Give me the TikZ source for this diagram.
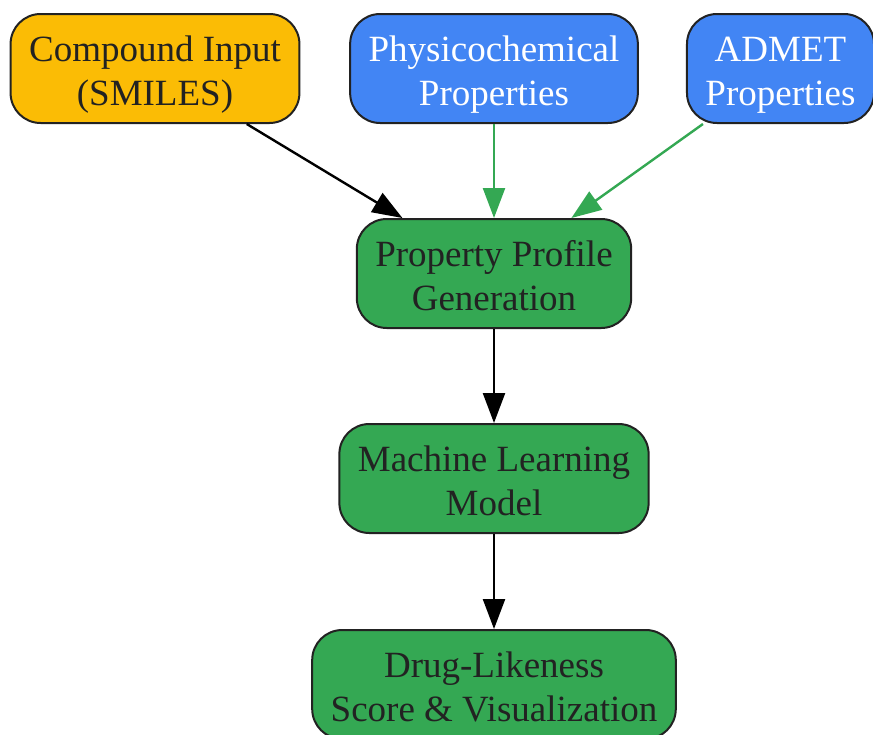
\documentclass[tikz,border=0pt]{standalone}
\usepackage{fontspec}
\setmainfont{Liberation Serif}
\usetikzlibrary{arrows.meta}

\definecolor{gyellow}{HTML}{FBBC05}
\definecolor{gblue}{HTML}{4285F4}
\definecolor{ggreen}{HTML}{34A853}
\definecolor{darktext}{HTML}{222222}

% two centred lines, set a little lower inside the box
\newcommand{\boxtext}[2]{\raisebox{-6pt}[\height][\depth]{\begin{tabular}{@{}c@{}}#1\\#2\end{tabular}}}

\tikzset{
    box/.style={draw=darktext, line width=2pt, rounded corners=30pt,
        minimum height=109pt, inner xsep=18.5pt, text=darktext,
        font=\fontsize{37}{44}\selectfont},
    flow/.style={line width=2.4pt, -{Triangle[length=30pt,width=22pt]}}
}

\begin{document}
\begin{tikzpicture}[x=1pt,y=-1pt]

    % Canvas
    \useasboundingbox (0,0) rectangle (873,734);

    % Input nodes (top row)
    \node[box, fill=gyellow] (compound) at (155,68.5) {\boxtext{Compound Input}{(SMILES)}};
    \node[box, fill=gblue, text=white] (physchem) at (494,68.5) {\boxtext{Physicochemical}{Properties}};
    \node[box, fill=gblue, text=white] (admet) at (780.5,68.5) {\boxtext{ADMET}{Properties}};

    % Processing chain
    \node[box, fill=ggreen] (profile) at (494,273.5) {\boxtext{Property Profile}{Generation}};
    \node[box, fill=ggreen] (model) at (494,478.5) {\boxtext{Machine Learning}{Model}};
    \node[box, fill=ggreen] (score) at (494,684.5) {\boxtext{Drug-Likeness}{Score \& Visualization}};

    % Arrows
    \draw[flow, black] (compound) -- (profile);
    \draw[flow, ggreen] (physchem) -- (profile);
    \draw[flow, ggreen] (admet) -- (profile);
    \draw[flow, black] (profile) -- (model);
    \draw[flow, black] (model) -- (score);

\end{tikzpicture}
\end{document}
